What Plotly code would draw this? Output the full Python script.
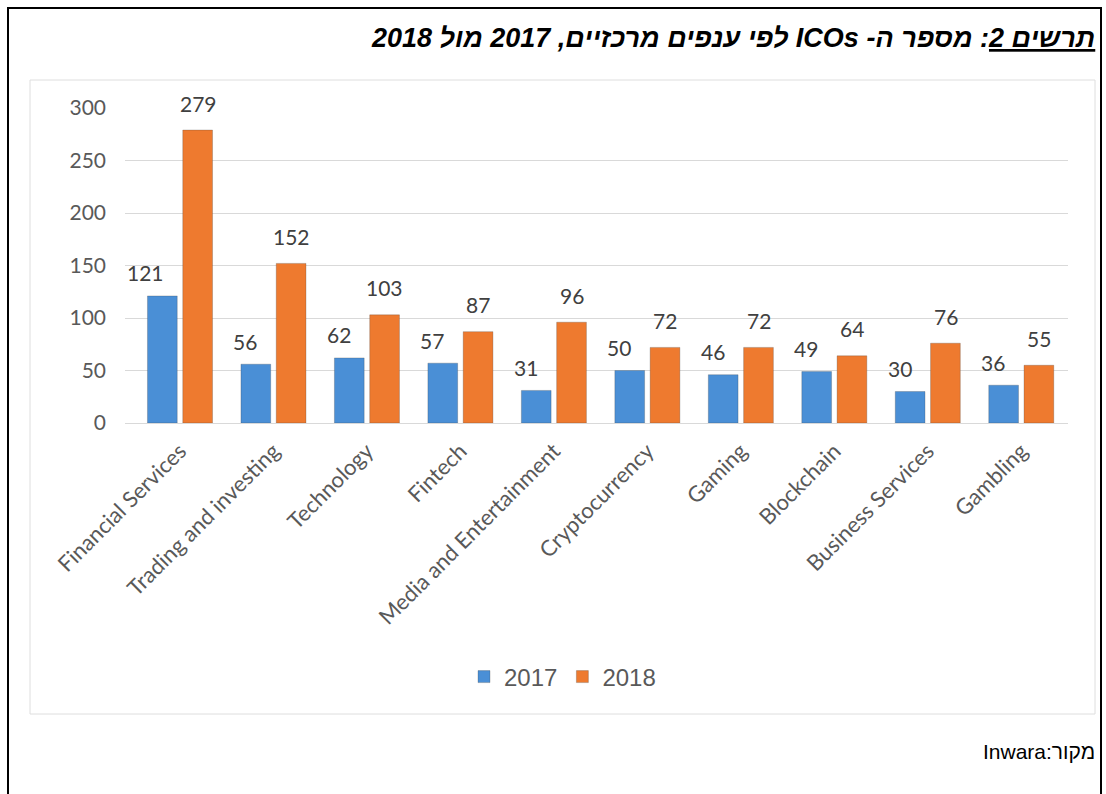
import plotly.graph_objects as go

# ICO counts by main sector, 2017 vs 2018
categories = [
    "Financial Services", "Trading and investing", "Technology", "Fintech",
    "Media and Entertainment", "Cryptocurrency", "Gaming", "Blockchain",
    "Business Services", "Gambling",
]
values_2017 = [121, 56, 62, 57, 31, 50, 46, 49, 30, 36]
values_2018 = [279, 152, 103, 87, 96, 72, 72, 64, 76, 55]
y_ticks = [0, 50, 100, 150, 200, 250, 300]

TITLE = "\u202b<b><i><u>תרשים 2</u>: מספר ה- ICOs לפי ענפים מרכזיים, 2017 מול 2018</i></b>\u202c"
SOURCE = "\u202bמקור:Inwara\u202c"

W, H = 1106, 794
ML, MR, MT, MB = 125, 38, 108, 371
PW, PH = W - ML - MR, H - MT - MB


def px(x):
    return (x - ML) / PW


def py(y):
    return (H - MB - y) / PH


BLUE = "#4a8fd6"
ORANGE = "#ee7a2f"
GRAY = "#595959"

fig = go.Figure()
fig.add_trace(go.Bar(
    x=categories, y=values_2017, name="2017",
    marker=dict(color=BLUE, line=dict(color="rgba(60,60,60,0.25)", width=1)),
))
fig.add_trace(go.Bar(
    x=categories, y=values_2018, name="2018",
    marker=dict(color=ORANGE, line=dict(color="rgba(60,60,60,0.25)", width=1)),
))

annotations = []
# value labels above the bars
for cat, v in zip(categories, values_2017):
    annotations.append(dict(
        x=cat, y=v, xref="x", yref="y", text=str(v), showarrow=False,
        xanchor="right", yanchor="middle", xshift=-14, yshift=23,
        font=dict(family="Lato", size=21, color="#404040"),
    ))
for cat, v in zip(categories, values_2018):
    annotations.append(dict(
        x=cat, y=v, xref="x", yref="y", text=str(v), showarrow=False,
        xanchor="center", yanchor="middle", xshift=18, yshift=27,
        font=dict(family="Lato", size=21, color="#404040"),
    ))
annotations.append(dict(
    x=px(1097), y=py(38), xref="paper", yref="paper", text=TITLE,
    showarrow=False, xanchor="right", yanchor="middle",
    font=dict(family="Liberation Sans", size=27, color="#000000"),
))
annotations.append(dict(
    x=px(1097), y=py(751), xref="paper", yref="paper", text=SOURCE,
    showarrow=False, xanchor="right", yanchor="middle",
    font=dict(family="Liberation Sans", size=21, color="#000000"),
))

shapes = [
    # outer frame
    dict(type="rect", xref="paper", yref="paper",
         x0=px(8), y0=py(8), x1=px(1101), y1=py(800),
         line=dict(color="#000000", width=2), layer="below"),
    # chart box
    dict(type="rect", xref="paper", yref="paper",
         x0=px(30), y0=py(80), x1=px(1095), y1=py(714),
         line=dict(color="#dedede", width=1), layer="below"),
]

fig.update_layout(
    width=W, height=H,
    margin=dict(l=ML, r=MR, t=MT, b=MB),
    paper_bgcolor="white", plot_bgcolor="white",
    barmode="group", bargap=0.245, bargroupgap=0.157,
    showlegend=True,
    legend=dict(
        orientation="h", x=px(464), xanchor="left", y=py(677), yanchor="middle",
        font=dict(family="Liberation Sans", size=24, color=GRAY),
        bgcolor="rgba(0,0,0,0)", itemclick=False,
    ),
    annotations=annotations,
    shapes=shapes,
    xaxis=dict(
        tickangle=-45, showgrid=False, showline=False, ticks="",
        ticklabelstandoff=10,
        tickfont=dict(family="Lato", size=22, color=GRAY),
    ),
    yaxis=dict(
        range=[0, 300], tickvals=y_ticks, showgrid=True,
        gridcolor="#d9d9d9", gridwidth=1, zeroline=True, zerolinecolor="#d9d9d9",
        zerolinewidth=1, showline=False, ticks="", ticklabelstandoff=18,
        tickfont=dict(family="Lato", size=21, color=GRAY),
    ),
)

fig.write_html("out.html")
